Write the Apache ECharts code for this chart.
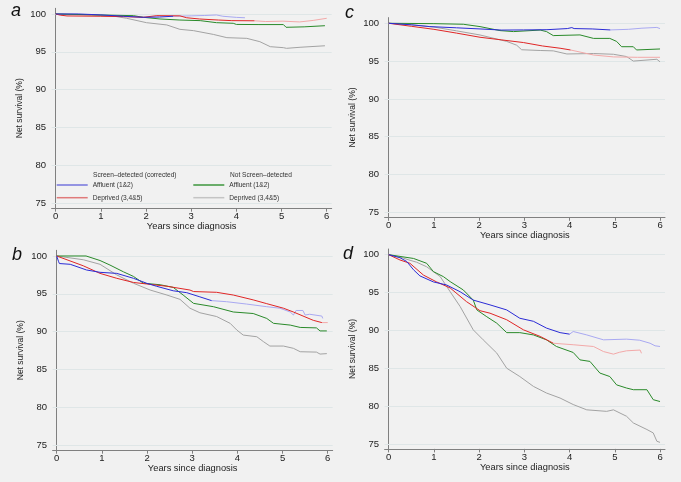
<!DOCTYPE html>
<html><head><meta charset="utf-8">
<script src="https://cdn.jsdelivr.net/npm/echarts@6/dist/echarts.min.js"></script>
<style>html,body{margin:0;padding:0;background:#f1f1f1}#c{width:681px;height:482px}</style>
</head><body><div id="c"></div>
<script>
// ---- tick labels ----
const xTicks = [0, 1, 2, 3, 4, 5, 6];
const yTicks = [75, 80, 85, 90, 95, 100];
const panelLetters = ['a', 'b', 'c', 'd'];
const legendNames = ['Affluent (1&2)', 'Deprived (3,4&5)'];
const legendHeaders = ['Screen–detected (corrected)', 'Not Screen–detected'];

// ---- panel a ----
const aSdAffSolid = [[0,100],[0.5,100],[1,99.88],[1.5,99.7],[1.94,99.56],[2.3,99.6],[2.6,99.7]];
const aSdAffFaded = [[2.6,99.7],[3.0,99.75],[3.3,99.8],[3.56,99.87],[3.7,99.7],[4.0,99.55],[4.19,99.5]];
const aSdDepSolid = [[0,100],[0.1,99.85],[0.25,99.74],[1,99.7],[1.5,99.65],[1.94,99.56],[2.24,99.78],[2.75,99.75],[2.9,99.5],[3.18,99.34],[3.6,99.2],[3.9,99.12],[4.4,99.1]];
const aSdDepFaded = [[4.4,99.1],[4.65,99.0],[5.03,99.05],[5.4,98.95],[5.7,99.15],[6.0,99.43]];
const aNsdAff = [[0,100],[0.98,99.87],[1.72,99.78],[1.94,99.56],[2.31,99.34],[2.75,99.2],[3.2,99.12],[3.56,98.85],[3.93,98.77],[4.0,98.62],[4.5,98.6],[5.04,98.6],[5.1,98.24],[5.5,98.3],[5.96,98.45]];
const aNsdDep = [[0,100],[0.8,99.85],[1.3,99.7],[1.57,99.43],[2.01,98.85],[2.46,98.55],[2.75,97.97],[3.05,97.8],[3.49,97.3],[3.79,96.87],[4.23,96.78],[4.52,96.34],[4.75,95.68],[5.04,95.55],[5.11,95.46],[5.41,95.6],[5.96,95.8]];

// ---- panel b ----
const bSdAffSolid = [[0,100],[0.04,99.3],[0.06,99.0],[0.3,98.9],[0.66,98.15],[0.96,97.84],[1.33,97.7],[1.7,97.05],[1.99,96.4],[2.21,96.0],[2.58,95.4],[2.88,95.15],[3.17,94.6],[3.43,94.1]];
const bSdAffFaded = [[3.43,94.1],[3.76,93.96],[4.2,93.65],[4.65,93.3],[4.94,93.1],[5.17,92.6],[5.24,92.2],[5.3,92.8],[5.45,92.8],[5.5,92.2],[5.6,92.3],[5.87,92.06],[5.89,91.75]];
const bSdDepSolid = [[0,100],[0.59,98.7],[0.96,97.7],[1.33,97.05],[1.7,96.5],[1.99,96.3],[2.44,96.0],[2.95,95.5],[3.03,95.3],[3.54,95.2],[3.91,94.84],[4.35,94.2],[4.65,93.7],[5.02,93.1],[5.24,92.6],[5.68,91.5],[5.87,91.2]];
const bSdDepFaded = [[5.87,91.2],[6.0,91.2]];
const bNsdAff = [[0,100],[0.65,100],[0.96,99.4],[1.18,98.8],[1.48,97.9],[1.7,97.3],[1.92,96.4],[2.29,96.2],[2.58,95.85],[2.8,94.84],[3.03,93.74],[3.47,93.3],[3.91,92.6],[4.35,92.4],[4.65,91.75],[4.8,91.1],[5.17,90.87],[5.39,90.56],[5.75,90.5],[5.83,90.1],[5.98,90.1]];
const bNsdDep = [[0,100],[0.59,99.5],[0.96,98.9],[1.33,97.5],[1.7,96.4],[2.07,95.5],[2.44,94.84],[2.73,94.27],[2.95,93.1],[3.17,92.5],[3.54,92.0],[3.84,91.1],[3.99,90.2],[4.13,89.55],[4.43,89.33],[4.58,88.67],[4.72,88.1],[5.02,88.1],[5.24,87.8],[5.39,87.35],[5.75,87.3],[5.83,87.04],[5.98,87.1]];

// ---- panel c ----
const cSdAffSolid = [[0,100],[0.5,99.8],[0.91,99.56],[1.5,99.4],[2.02,99.25],[2.5,99.1],[2.98,99.12],[3.5,99.15],[3.95,99.3],[4.05,99.43],[4.1,99.3],[4.5,99.25],[4.9,99.12]];
const cSdAffFaded = [[4.9,99.12],[5.3,99.2],[5.6,99.35],[5.93,99.45],[6.0,99.3]];
const cSdDepSolid = [[0,100],[0.5,99.6],[1.0,99.2],[1.5,98.7],[2.02,98.15],[2.5,97.8],[2.98,97.45],[3.4,97.0],[3.79,96.7],[4.02,96.47]];
const cSdDepFaded = [[4.02,96.47],[4.53,95.8],[4.97,95.55],[5.5,95.5],[6.0,95.5]];
const cNsdAff = [[0,100],[1.0,99.95],[1.65,99.87],[2.02,99.56],[2.46,99.03],[2.76,98.9],[3.35,99.1],[3.49,98.9],[3.64,98.37],[4.23,98.46],[4.53,98.0],[4.89,98.0],[5.04,97.6],[5.15,96.9],[5.41,96.9],[5.48,96.47],[6.0,96.6]];
const cNsdDep = [[0,100],[0.5,99.8],[1.0,99.5],[1.5,99.0],[2.02,98.45],[2.61,97.6],[2.83,97.1],[2.94,96.5],[3.35,96.4],[3.64,96.35],[3.94,95.94],[4.53,96.0],[4.97,95.9],[5.26,95.6],[5.41,95.0],[5.93,95.24],[6.0,94.9]];

// ---- panel d ----
const dSdAffSolid = [[0,100],[0.25,99.6],[0.4,99.1],[0.55,98.0],[0.69,97.2],[0.99,96.4],[1.28,96.0],[1.58,95.1],[1.87,94.0],[2.24,93.37],[2.61,92.7],[2.9,91.6],[3.2,91.2],[3.49,90.3],[3.79,89.7],[4.0,89.5]];
const dSdAffFaded = [[4.0,89.5],[4.08,89.85],[4.38,89.4],[4.75,88.75],[5.26,88.84],[5.55,88.7],[5.78,88.3],[5.89,87.96],[6.0,87.87]];
const dSdDepSolid = [[0,100],[0.25,99.3],[0.47,98.86],[0.77,97.3],[1.06,96.4],[1.36,95.6],[1.72,93.8],[2.02,92.6],[2.24,92.27],[2.61,91.4],[2.98,90.07],[3.35,89.2],[3.64,88.3]];
const dSdDepFaded = [[3.64,88.3],[4.08,88.1],[4.53,87.87],[4.75,87.2],[4.97,86.86],[5.1,87.1],[5.26,87.3],[5.56,87.4],[5.59,86.97]];
const dNsdAff = [[0,100],[0.55,99.5],[0.84,98.86],[0.99,97.76],[1.21,97.1],[1.36,96.44],[1.65,95.34],[1.87,94.0],[1.95,92.7],[2.17,91.8],[2.39,90.95],[2.61,89.7],[2.9,89.7],[3.2,89.4],[3.49,88.75],[3.71,87.87],[4.08,87.08],[4.23,86.1],[4.45,85.9],[4.67,84.36],[4.89,83.9],[5.04,82.8],[5.26,82.38],[5.41,82.16],[5.71,82.16],[5.85,80.84],[6.0,80.6]];
const dNsdDep = [[0,100],[0.3,99.6],[0.45,99.3],[0.62,99.0],[0.84,98.4],[1.14,97.1],[1.36,95.1],[1.58,93.15],[1.87,90.07],[2.09,88.75],[2.39,87.0],[2.61,85.0],[2.9,83.9],[3.2,82.6],[3.49,81.72],[3.79,81.06],[4.08,80.2],[4.38,79.5],[4.82,79.3],[4.97,79.5],[5.26,78.65],[5.41,77.77],[5.71,76.9],[5.85,76.45],[5.93,75.35],[6.0,75.2]];

const panels = [
  {sdAff:[aSdAffSolid,aSdAffFaded], sdDep:[aSdDepSolid,aSdDepFaded], nsdAff:aNsdAff, nsdDep:aNsdDep},
  {sdAff:[bSdAffSolid,bSdAffFaded], sdDep:[bSdDepSolid,bSdDepFaded], nsdAff:bNsdAff, nsdDep:bNsdDep},
  {sdAff:[cSdAffSolid,cSdAffFaded], sdDep:[cSdDepSolid,cSdDepFaded], nsdAff:cNsdAff, nsdDep:cNsdDep},
  {sdAff:[dSdAffSolid,dSdAffFaded], sdDep:[dSdDepSolid,dSdDepFaded], nsdAff:dNsdAff, nsdDep:dNsdDep}
];

// layout: a (top-left), b (bottom-left), c (top-right), d (bottom-right)
const grids = [
  {left:51.6, top:8.3, width:280.1, height:199.9},
  {left:52.6, top:250.3, width:280.1, height:199.9},
  {left:384.6, top:17.6, width:280.4, height:199.7},
  {left:384.6, top:249.0, width:280.4, height:199.9}
];
const letterPos = [[11,2],[12,246],[345,4],[343,245]];

const FONT = 'Liberation Sans';
const COL = {
  blue:'#2b2bd6', blueFaded:'#a9a9f2',
  red:'#e02626', redFaded:'#f3a9a9',
  green:'#2a8a2a', gray:'#a3a3a3'
};

const xAxes = [], yAxes = [], series = [];
grids.forEach((g, i) => {
  xAxes.push({
    type:'value', gridIndex:i, min:-0.09, max:6.11,
    axisLine:{show:true, lineStyle:{color:'#808080', width:1}},
    axisTick:{show:true, customValues:xTicks, length:3.5, lineStyle:{color:'#808080'}},
    axisLabel:{customValues:xTicks, fontSize:9.5, fontFamily:FONT, color:'#222', margin:3},
    splitLine:{show:false},
    name:'Years since diagnosis', nameLocation:'middle', nameGap:14,
    nameTextStyle:{fontSize:9.3, fontFamily:FONT, color:'#222'}
  });
  yAxes.push({
    type:'value', gridIndex:i, min:74.34, max:100.75,
    axisLine:{show:true, lineStyle:{color:'#808080', width:1}},
    axisTick:{show:true, customValues:yTicks, length:3.5, lineStyle:{color:'#808080'}},
    axisLabel:{customValues:yTicks, fontSize:9.5, fontFamily:FONT, color:'#222', margin:5.5},
    splitLine:{show:false},
    name:'Net survival (%)', nameLocation:'middle', nameGap:27.4,
    nameTextStyle:{fontSize:8.5, fontFamily:FONT, color:'#222'}
  });
  const p = panels[i];
  const base = {type:'line', xAxisIndex:i, yAxisIndex:i, showSymbol:false, symbol:'none', animation:false, silent:true};
  series.push(Object.assign({}, base, {
    name:'NSD Deprived', data:p.nsdDep, lineStyle:{color:COL.gray, width:1}, itemStyle:{color:COL.gray}, z:2,
    markLine:{silent:true, symbol:'none', z:1, label:{show:false}, animation:false,
      lineStyle:{color:'#dfe6e7', width:1, type:'solid'},
      data: yTicks.map(v => ({yAxis:v}))}
  }));
  series.push(Object.assign({}, base, {name:'NSD Affluent', data:p.nsdAff, lineStyle:{color:COL.green, width:1}, itemStyle:{color:COL.green}, z:3}));
  series.push(Object.assign({}, base, {name:'SD Deprived', data:p.sdDep[1], lineStyle:{color:COL.redFaded, width:1}, itemStyle:{color:COL.redFaded}, z:3}));
  series.push(Object.assign({}, base, {name:'SD Affluent', data:p.sdAff[1], lineStyle:{color:COL.blueFaded, width:1}, itemStyle:{color:COL.blueFaded}, z:3}));
  series.push(Object.assign({}, base, {name:'SD Deprived', data:p.sdDep[0], lineStyle:{color:COL.red, width:1}, itemStyle:{color:COL.red}, z:4}));
  series.push(Object.assign({}, base, {name:'SD Affluent', data:p.sdAff[0], lineStyle:{color:COL.blue, width:1}, itemStyle:{color:COL.blue}, z:4}));
});

const legendFmt = n => n.indexOf('Affluent') >= 0 ? legendNames[0] : legendNames[1];
const legendCommon = {
  orient:'vertical', itemWidth:31, itemHeight:1.5, itemGap:4.7, icon:'rect', padding:0,
  selectedMode:false, formatter:legendFmt,
  textStyle:{fontSize:6.6, fontFamily:FONT, color:'#333', lineHeight:8}
};

const titles = panelLetters.map((t, i) => ({
  text:t, left:letterPos[i][0], top:letterPos[i][1], padding:0,
  textStyle:{fontSize:18, fontStyle:'italic', fontWeight:'normal', fontFamily:FONT, color:'#111'}
}));
titles.push({text:legendHeaders[0], left:93, top:171.5, padding:0, textStyle:{fontSize:6.6, fontWeight:'normal', fontFamily:FONT, color:'#333'}});
titles.push({text:legendHeaders[1], left:230, top:171.5, padding:0, textStyle:{fontSize:6.6, fontWeight:'normal', fontFamily:FONT, color:'#333'}});

const chart = echarts.init(document.getElementById('c'), null, {renderer:'canvas'});
chart.setOption({
  backgroundColor:'#f1f1f1',
  animation:false,
  title:titles,
  legend:[
    Object.assign({}, legendCommon, {left:56.7, top:181, data:[
      {name:'SD Affluent', itemStyle:{color:'#7474dc'}},
      {name:'SD Deprived', itemStyle:{color:'#e07a7a'}}]}),
    Object.assign({}, legendCommon, {left:193.3, top:181, data:[
      {name:'NSD Affluent', itemStyle:{color:'#3c963c'}},
      {name:'NSD Deprived', itemStyle:{color:'#c4c4c4'}}]})
  ],
  grid:grids,
  xAxis:xAxes,
  yAxis:yAxes,
  series:series
});
</script></body></html>
